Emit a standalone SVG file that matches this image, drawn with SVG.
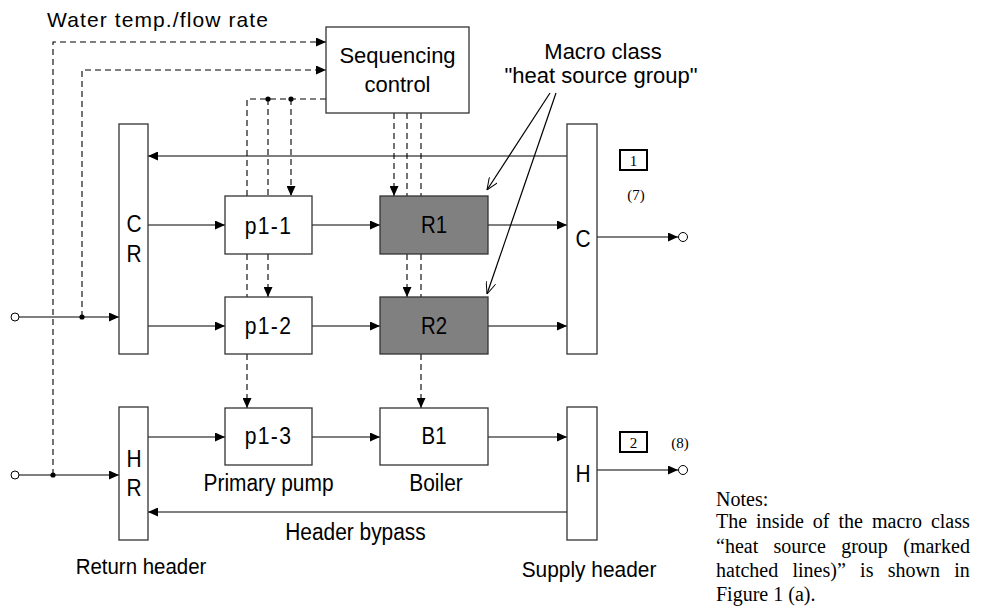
<svg xmlns="http://www.w3.org/2000/svg" width="982" height="608" viewBox="0 0 982 608">
<style>
.box{fill:#fff;stroke:#333;stroke-width:1.3}
.dark{fill:#808080;stroke:#333;stroke-width:1.3}
.ln{fill:none;stroke:#000;stroke-width:1.2}
.ds{fill:none;stroke:#000;stroke-width:1.1;stroke-dasharray:6,4}
.t{font-family:"Liberation Sans",Arial,sans-serif;font-size:22px;fill:#000;text-anchor:middle}
.b{font-family:"Liberation Sans",Arial,sans-serif;font-size:24px;fill:#000;text-anchor:middle}
.s{font-family:"Liberation Serif","Times New Roman",serif;fill:#000}
</style>
<defs>
<marker id="ah" viewBox="0 0 10 9" refX="10" refY="4.5" markerWidth="10" markerHeight="9" markerUnits="userSpaceOnUse" orient="auto"><path d="M0,0 L10,4.5 L0,9 z" fill="#000"/></marker>
<marker id="oa" viewBox="0 0 12 10" refX="12" refY="5" markerWidth="12" markerHeight="10" markerUnits="userSpaceOnUse" orient="auto"><path d="M0,0 L12,5 L0,10" fill="none" stroke="#000" stroke-width="1"/></marker>
</defs>
<rect width="982" height="608" fill="#fff"/>

<g id="connectors">
<path class="ds" d="M53,475 V42 H326" marker-end="url(#ah)"/>
<path class="ds" d="M82,317 V70 H326" marker-end="url(#ah)"/>
<path class="ds" d="M326,99 H247 V196"/>
<path class="ds" d="M247,254 V297"/>
<path class="ds" d="M247,354 V408" marker-end="url(#ah)"/>
<path class="ds" d="M268,99 V196"/>
<path class="ds" d="M268,254 V297" marker-end="url(#ah)"/>
<path class="ds" d="M291,99 V196" marker-end="url(#ah)"/>
<path class="ds" d="M394,113 V196" marker-end="url(#ah)"/>
<path class="ds" d="M407,113 V196"/>
<path class="ds" d="M407,254 V297" marker-end="url(#ah)"/>
<path class="ds" d="M421,113 V196"/>
<path class="ds" d="M421,254 V297"/>
<path class="ds" d="M421,354 V408" marker-end="url(#ah)"/>
<circle cx="268" cy="99" r="2.6" fill="#000"/>
<circle cx="291" cy="99" r="2.6" fill="#000"/>
<path class="ln" d="M148,225 H225" marker-end="url(#ah)"/>
<path class="ln" d="M312,225 H380" marker-end="url(#ah)"/>
<path class="ln" d="M488,225 H567" marker-end="url(#ah)"/>
<path class="ln" d="M148,326 H225" marker-end="url(#ah)"/>
<path class="ln" d="M312,326 H380" marker-end="url(#ah)"/>
<path class="ln" d="M488,326 H567" marker-end="url(#ah)"/>
<path class="ln" d="M148,437 H225" marker-end="url(#ah)"/>
<path class="ln" d="M312,437 H380" marker-end="url(#ah)"/>
<path class="ln" d="M488,437 H567" marker-end="url(#ah)"/>
<path class="ln" d="M567,156 H148" marker-end="url(#ah)"/>
<path class="ln" d="M567,512 H148" marker-end="url(#ah)"/>
<path class="ln" d="M19,317 H119" marker-end="url(#ah)"/>
<circle cx="15" cy="317" r="4" fill="#fff" stroke="#000" stroke-width="1"/>
<circle cx="82" cy="317" r="2.6" fill="#000"/>
<path class="ln" d="M19,475 H119" marker-end="url(#ah)"/>
<circle cx="15" cy="475" r="4" fill="#fff" stroke="#000" stroke-width="1"/>
<circle cx="53" cy="475" r="2.6" fill="#000"/>
<path class="ln" d="M597,237 H678" marker-end="url(#ah)"/>
<circle cx="683" cy="237" r="4.5" fill="#fff" stroke="#000" stroke-width="1"/>
<path class="ln" d="M597,470 H678" marker-end="url(#ah)"/>
<circle cx="683" cy="470" r="4.5" fill="#fff" stroke="#000" stroke-width="1"/>
<path class="ln" d="M550,93 L487,190" stroke-width="1" marker-end="url(#oa)"/>
<path class="ln" d="M556,93 L487,294" stroke-width="1" marker-end="url(#oa)"/>
</g>

<g id="sequencing-control">
<rect class="box" x="326" y="27" width="143" height="86"/>
<text class="t" x="397.5" y="63">Sequencing</text>
<text class="t" x="397.5" y="92">control</text>
</g>

<g id="CR"><rect class="box" x="119" y="124" width="29" height="230"/>
<text class="b" transform="translate(134,232) scale(0.87,1)">C</text>
<text class="b" transform="translate(134,262) scale(0.87,1)">R</text></g>
<g id="HR"><rect class="box" x="119" y="407" width="29" height="133"/>
<text class="b" transform="translate(134,467) scale(0.87,1)">H</text>
<text class="b" transform="translate(134,496) scale(0.87,1)">R</text></g>
<g id="C"><rect class="box" x="567" y="124" width="30" height="230"/>
<text class="b" transform="translate(583,247) scale(0.87,1)">C</text></g>
<g id="H"><rect class="box" x="567" y="407" width="30" height="133"/>
<text class="b" transform="translate(583,482) scale(0.87,1)">H</text></g>

<g id="p1-1"><rect class="box" x="225" y="196" width="87" height="58"/>
<text class="b" transform="translate(268.5,234) scale(0.88,1)" letter-spacing="1.5">p1-1</text></g>
<g id="p1-2"><rect class="box" x="225" y="297" width="87" height="57"/>
<text class="b" transform="translate(268.5,334) scale(0.88,1)" letter-spacing="1.5">p1-2</text></g>
<g id="p1-3"><rect class="box" x="225" y="408" width="87" height="57"/>
<text class="b" transform="translate(268.5,444) scale(0.88,1)" letter-spacing="1.5">p1-3</text></g>
<g id="R1"><rect class="dark" x="380" y="196" width="108" height="58"/>
<text class="b" transform="translate(434,233) scale(0.85,1)">R1</text></g>
<g id="R2"><rect class="dark" x="380" y="297" width="108" height="57"/>
<text class="b" transform="translate(434,334) scale(0.85,1)">R2</text></g>
<g id="B1"><rect class="box" x="380" y="408" width="108" height="57"/>
<text class="b" transform="translate(434,444) scale(0.85,1)">B1</text></g>

<g id="tag1"><rect x="620" y="150" width="27" height="20" fill="#fff" stroke="#000" stroke-width="2"/>
<text class="s" x="633.5" y="166" text-anchor="middle" font-size="15">1</text></g>
<g id="tag2"><rect x="620" y="432" width="27" height="20" fill="#fff" stroke="#000" stroke-width="2"/>
<text class="s" x="633.5" y="448" text-anchor="middle" font-size="15">2</text></g>

<g id="labels">
<text class="t" x="47" y="27" style="text-anchor:start;font-size:21px" textLength="221" lengthAdjust="spacing">Water temp./flow rate</text>
<text class="t" x="603" y="59">Macro class</text>
<text class="t" x="601" y="83">"heat source group"</text>
<text class="s" x="636" y="200" text-anchor="middle" font-size="15">(7)</text>
<text class="s" x="680" y="448" text-anchor="middle" font-size="15">(8)</text>
<text class="t" transform="translate(268.5,491) scale(0.95,1.05)">Primary pump</text>
<text class="t" transform="translate(436,491) scale(0.95,1.05)">Boiler</text>
<text class="t" transform="translate(355.5,540) scale(0.95,1.05)">Header bypass</text>
<text class="t" transform="translate(141,574) scale(0.93,1)">Return header</text>
<text class="t" transform="translate(589,577) scale(0.95,1)">Supply header</text>
</g>

<g id="notes" class="s" font-size="20">
<text x="716" y="506">Notes:</text>
<text x="716" y="528" word-spacing="4">The inside of the macro class</text>
<text x="716" y="553" word-spacing="10.4">“heat source group (marked</text>
<text x="716" y="577" word-spacing="9.3">hatched lines)” is shown in</text>
<text x="716" y="601">Figure 1 (a).</text>
</g>
</svg>
